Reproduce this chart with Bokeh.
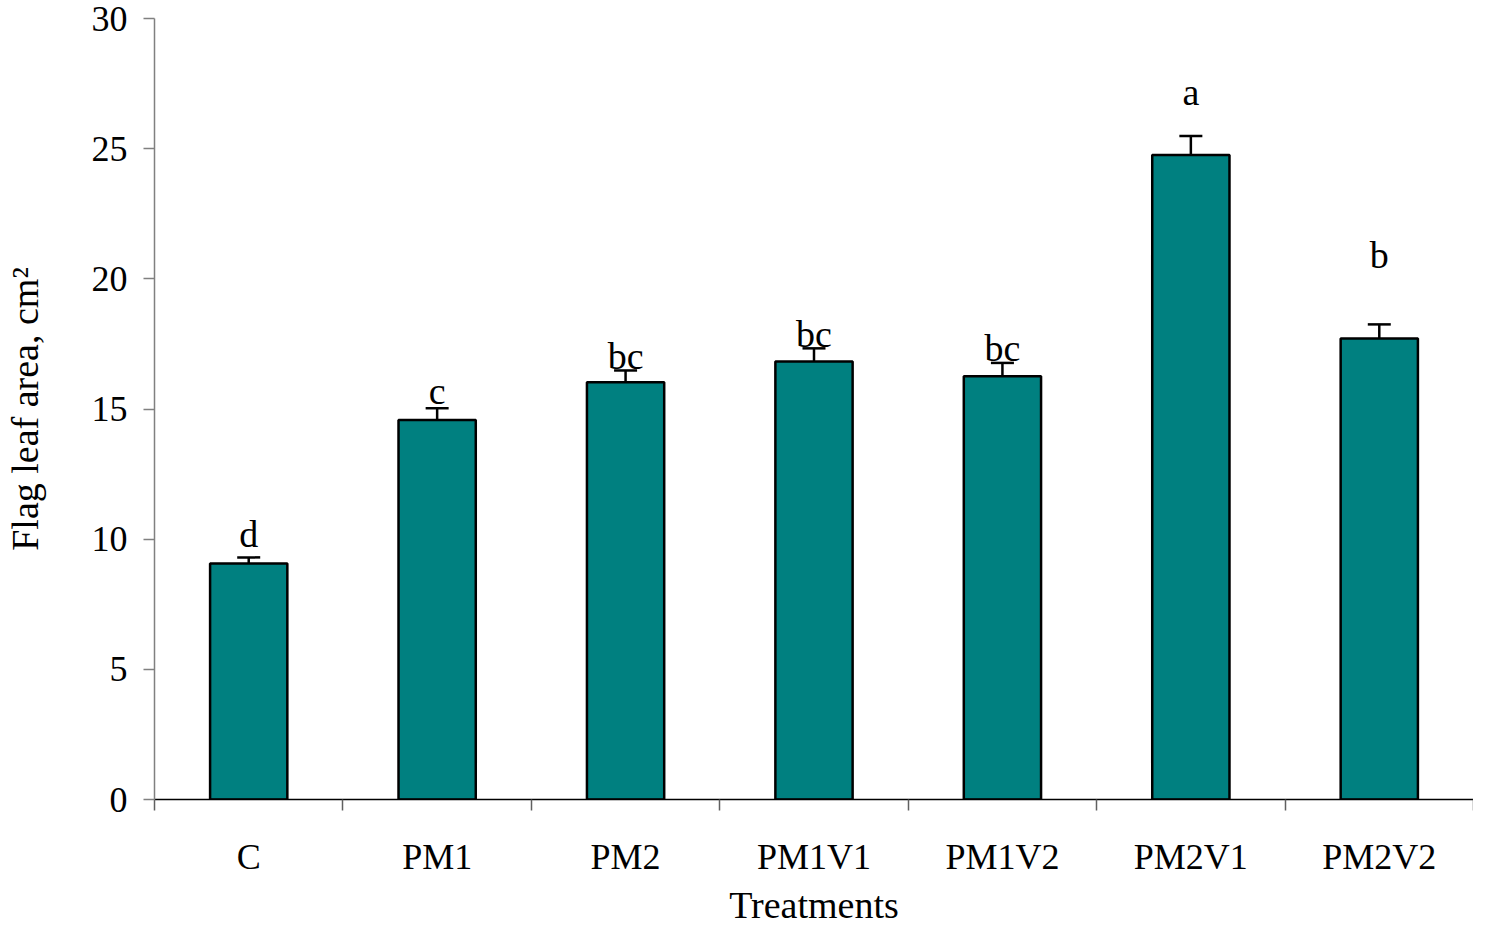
from bokeh.plotting import figure
from bokeh.models import Range1d, FixedTicker, ColumnDataSource, Whisker, TeeHead
from bokeh.core.properties import value
from bokeh.embed import file_html
from bokeh.resources import INLINE

# ---- data ----
treatments = ["C", "PM1", "PM2", "PM1V1", "PM1V2", "PM2V1", "PM2V2"]
flag_leaf_area = [9.07, 14.58, 16.03, 16.82, 16.26, 24.76, 17.71]
std_error = [0.23, 0.45, 0.45, 0.51, 0.51, 0.73, 0.54]
letters = ["d", "c", "bc", "bc", "bc", "a", "b"]
letter_y = [10.19, 15.69, 17.04, 17.89, 17.33, 27.19, 20.92]
y_ticks = [0, 5, 10, 15, 20, 25, 30]

FONT = "Liberation Serif"
n = len(treatments)
centers = [i + 0.5 for i in range(n)]
bounds = list(range(n + 1))

src = ColumnDataSource(dict(
    x=centers,
    top=flag_leaf_area,
    upper=[m + e for m, e in zip(flag_leaf_area, std_error)],
    lower=[m - e for m, e in zip(flag_leaf_area, std_error)],
    lab=letters,
    laby=letter_y,
))

p = figure(width=1473, height=928, x_range=Range1d(0, n),
           y_range=Range1d(0, 30), output_backend="svg", toolbar_location=None,
           min_border_left=149, min_border_right=0, min_border_top=18,
           min_border_bottom=120)
p.outline_line_color = None
p.xgrid.visible = False
p.ygrid.visible = False
p.background_fill_color = "white"
p.border_fill_color = "white"

p.vbar(x="x", top="top", width=0.41, bottom=0, source=src,
       fill_color="#008080", line_color="black", line_width=2.5)

wh = Whisker(base="x", upper="upper", lower="lower", source=src,
             line_color="black", line_width=2.5,
             upper_head=TeeHead(size=23, line_color="black", line_width=2.5),
             lower_head=TeeHead(size=23, line_color="black", line_width=2.5))
p.add_layout(wh)

p.text(x="x", y="laby", text="lab", source=src, text_align="center",
       text_baseline="alphabetic", text_font=value(FONT),
       text_font_size="38px", text_color="black")

# y axis
yax = p.yaxis[0]
yax.ticker = FixedTicker(ticks=y_ticks)
yax.axis_line_color = "#808080"
yax.axis_line_width = 1.5
yax.major_tick_line_color = "#808080"
yax.major_tick_line_width = 1.5
yax.major_tick_out = 11
yax.major_tick_in = 0
yax.minor_tick_out = 0
yax.minor_tick_in = 0
yax.major_label_text_font = FONT
yax.major_label_text_font_size = "36px"
yax.major_label_text_color = "black"
yax.major_label_standoff = 16
yax.axis_label = "Flag leaf area, cm²"
yax.axis_label_text_font = FONT
yax.axis_label_text_font_size = "38px"
yax.axis_label_text_font_style = "normal"
yax.axis_label_text_color = "black"
yax.axis_label_standoff = 43

# x axis: labels at category centres, separator ticks (minor) between categories
xax = p.xaxis[0]
xax.ticker = FixedTicker(ticks=centers, minor_ticks=bounds)
xax.major_label_overrides = {c: t for c, t in zip(centers, treatments)}
xax.axis_line_color = "black"
xax.axis_line_width = 1.5
xax.major_tick_out = 0
xax.major_tick_in = 0
xax.minor_tick_line_color = "#606060"
xax.minor_tick_line_width = 1.5
xax.minor_tick_out = 11
xax.minor_tick_in = 0
xax.major_label_text_font = FONT
xax.major_label_text_font_size = "36px"
xax.major_label_text_color = "black"
xax.major_label_standoff = 26
xax.axis_label = "Treatments"
xax.axis_label_text_font = FONT
xax.axis_label_text_font_size = "38px"
xax.axis_label_text_font_style = "normal"
xax.axis_label_text_color = "black"
xax.axis_label_standoff = 4

open("out.html", "w").write(file_html(p, INLINE))
